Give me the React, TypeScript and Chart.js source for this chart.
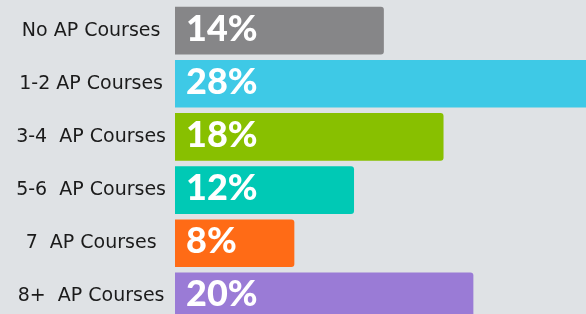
import React, { useEffect, useRef } from "react";
import { Chart, registerables } from "chart.js";

Chart.register(...registerables);

const categories = [
  "No AP Courses",
  "1-2 AP Courses",
  "3-4  AP Courses",
  "5-6  AP Courses",
  "7  AP Courses",
  "8+  AP Courses",
];
const percentages = [14, 28, 18, 12, 8, 20];
const barColors = ["#868688", "#3ec9e6", "#88c000", "#00c9b5", "#ff6b16", "#9a7bd6"];

const valueLabels = {
  id: "valueLabels",
  afterDatasetsDraw(chart: any) {
    const ctx = chart.ctx;
    const meta = chart.getDatasetMeta(0);
    ctx.save();
    ctx.fillStyle = "#ffffff";
    ctx.font = "900 36px Lato";
    ctx.textAlign = "left";
    ctx.textBaseline = "alphabetic";
    meta.data.forEach((bar: any, i: number) => {
      const p = bar.getProps(["base", "y"], true);
      ctx.fillText(percentages[i] + "%", p.base + 11, p.y + 10);
    });
    ctx.restore();
  },
};

export default function App() {
  const ref = useRef<HTMLCanvasElement>(null);
  useEffect(() => {
    if (!ref.current) return;
    const chart = new Chart(ref.current, {
      type: "bar",
      data: {
        labels: categories,
        datasets: [
          {
            data: percentages,
            backgroundColor: barColors,
            borderRadius: 3,
            borderSkipped: "start",
            barPercentage: 0.895,
            categoryPercentage: 1,
          },
        ],
      },
      options: {
        indexAxis: "y",
        responsive: false,
        animation: false,
        layout: { padding: { top: 4, bottom: 0, left: 0, right: 0 } },
        plugins: { legend: { display: false }, tooltip: { enabled: false } },
        scales: {
          x: {
            display: false,
            min: 0,
            max: 27.55,
          },
          y: {
            grid: { display: false, drawTicks: false },
            border: { display: false },
            ticks: {
              crossAlign: "center",
              padding: 9,
              color: "#1b1b1b",
              font: { family: "DejaVu Sans", size: 19 },
            },
            afterFit(scale: any) {
              scale.width = 175;
              scale.paddingTop = 0;
              scale.paddingBottom = 0;
            },
          },
        },
      },
      plugins: [valueLabels],
    });
    return () => chart.destroy();
  }, []);
  return (
    <div
      style={{
        position: "fixed",
        left: 0,
        top: 0,
        width: 586,
        height: 314,
        overflow: "hidden",
        background: "#dfe2e5",
      }}
    >
      <canvas ref={ref} width={586} height={323} style={{ display: "block" }} />
    </div>
  );
}
